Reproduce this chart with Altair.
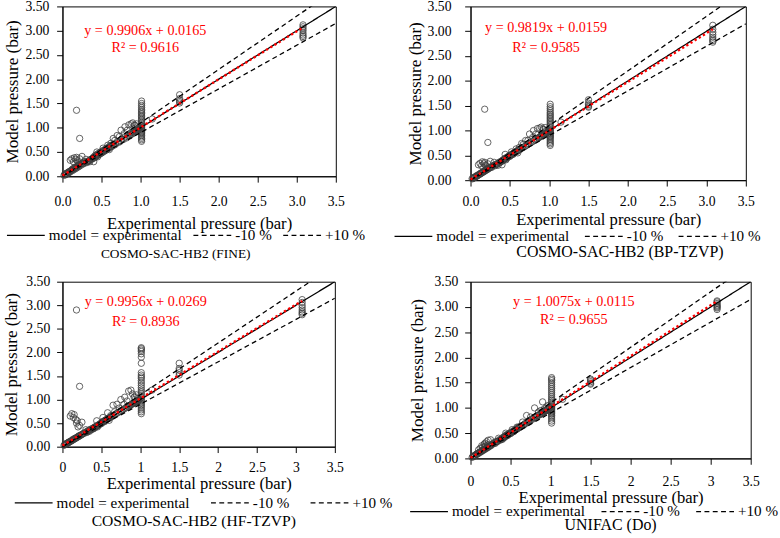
import altair as alt
import pandas as pd

# Experimental vapour pressures (bar); the same systems are predicted by every model
EXP = [
    0.02, 0.03, 0.04, 0.05, 0.06, 0.07, 0.08, 0.09, 0.10, 0.11,
    0.12, 0.13, 0.14, 0.15, 0.16, 0.17, 0.18, 0.19, 0.20, 0.21,
    0.22, 0.23, 0.24, 0.25, 0.26, 0.28, 0.30, 0.32, 0.34, 0.36,
    0.38, 0.40, 0.41, 0.42, 0.43, 0.44, 0.45, 0.46, 0.47, 0.48,
    0.49, 0.50, 0.51, 0.52, 0.53, 0.54, 0.55, 0.56, 0.57, 0.58,
    0.59, 0.60, 0.61, 0.62, 0.63, 0.64, 0.66, 0.68, 0.70, 0.72,
    0.74, 0.76, 0.78, 0.80, 0.82, 0.84, 0.86, 0.87, 0.88, 0.89,
    0.90, 0.91, 0.92, 0.93, 0.94, 0.95, 0.96, 0.97, 0.98, 0.99,
    0.10, 0.12, 0.14, 0.15, 0.17, 0.18, 0.19, 0.20, 0.22, 0.25,
    0.35, 0.40, 0.44, 0.52, 0.58, 0.65, 0.70, 0.75, 0.80, 0.85,
    0.88, 0.90, 0.92, 0.95, 0.97, 0.60, 0.45, 0.30, 0.18, 0.22,
    1.013, 1.013, 1.013, 1.013, 1.013, 1.013, 1.013, 1.013, 1.013, 1.013,
    1.013, 1.013, 1.013, 1.013, 1.013, 1.013, 1.013, 1.013, 1.013, 1.013,
    1.013, 1.013, 1.013, 1.013, 1.013, 1.013, 1.013, 1.013, 1.013, 1.013,
    1.50, 1.50, 1.50, 1.50, 1.50, 1.15, 3.08, 3.08, 3.08, 3.08,
    3.08, 3.08, 3.08, 3.08,
    0.05, 0.08, 0.13, 0.16, 0.21, 0.27, 0.31, 0.33, 0.37, 0.39,
    0.42, 0.46, 0.50, 0.54, 0.62, 0.67, 0.73, 0.79, 0.83, 0.93,
]

# Model pressures (bar)
Y_FINE = [
    0.02, 0.04, 0.03, 0.06, 0.05, 0.08, 0.07, 0.10, 0.09, 0.12,
    0.13, 0.12, 0.16, 0.14, 0.18, 0.16, 0.20, 0.18, 0.22, 0.20,
    0.24, 0.22, 0.26, 0.27, 0.25, 0.30, 0.29, 0.31, 0.32, 0.35,
    0.36, 0.40, 0.38, 0.43, 0.41, 0.45, 0.43, 0.47, 0.45, 0.49,
    0.47, 0.51, 0.49, 0.53, 0.51, 0.55, 0.53, 0.57, 0.55, 0.59,
    0.57, 0.61, 0.60, 0.63, 0.61, 0.65, 0.64, 0.66, 0.71, 0.70,
    0.72, 0.77, 0.76, 0.81, 0.79, 0.85, 0.83, 0.89, 0.86, 0.91,
    0.88, 0.93, 0.90, 0.95, 0.92, 0.97, 0.94, 0.99, 0.96, 1.01,
    0.33, 0.36, 0.30, 0.38, 0.35, 0.39, 0.32, 0.28, 0.36, 0.41,
    0.30, 0.30, 0.50, 0.58, 0.64, 0.78, 0.84, 0.95, 1.02, 1.06,
    1.08, 1.10, 1.05, 1.08, 1.00, 0.55, 0.40, 0.35, 1.36, 0.78,
    0.72, 0.75, 0.78, 0.81, 0.84, 0.87, 0.89, 0.91, 0.93, 0.95,
    0.97, 0.99, 1.01, 1.03, 1.05, 1.08, 1.11, 1.14, 1.17, 1.20,
    1.23, 1.26, 1.29, 1.32, 1.35, 1.38, 1.42, 1.46, 1.50, 1.55,
    1.51, 1.54, 1.57, 1.60, 1.68, 1.18, 2.85, 2.88, 2.91, 2.95,
    3.00, 3.04, 3.08, 3.12,
    0.06, 0.09, 0.15, 0.18, 0.23, 0.26, 0.28, 0.31, 0.35, 0.37,
    0.40, 0.44, 0.48, 0.53, 0.68, 0.74, 0.82, 0.88, 0.95, 1.05,
]

Y_BP = [
    0.03, 0.03, 0.05, 0.05, 0.07, 0.07, 0.09, 0.09, 0.11, 0.11,
    0.13, 0.13, 0.15, 0.15, 0.17, 0.17, 0.19, 0.19, 0.21, 0.21,
    0.23, 0.23, 0.25, 0.26, 0.26, 0.29, 0.30, 0.32, 0.33, 0.36,
    0.37, 0.39, 0.40, 0.42, 0.42, 0.44, 0.44, 0.46, 0.46, 0.48,
    0.48, 0.50, 0.50, 0.52, 0.52, 0.54, 0.54, 0.56, 0.56, 0.58,
    0.58, 0.60, 0.60, 0.62, 0.62, 0.64, 0.65, 0.67, 0.69, 0.71,
    0.73, 0.75, 0.77, 0.79, 0.81, 0.83, 0.85, 0.86, 0.87, 0.88,
    0.89, 0.90, 0.91, 0.92, 0.93, 0.94, 0.95, 0.96, 0.97, 0.98,
    0.31, 0.34, 0.29, 0.37, 0.33, 0.36, 0.30, 0.27, 0.33, 0.38,
    0.30, 0.31, 0.52, 0.57, 0.63, 0.74, 0.80, 0.93, 1.00, 1.04,
    1.05, 1.07, 1.03, 1.06, 0.99, 0.55, 0.41, 0.36, 1.43, 0.76,
    0.70, 0.73, 0.76, 0.79, 0.82, 0.85, 0.87, 0.89, 0.91, 0.93,
    0.95, 0.97, 0.99, 1.01, 1.03, 1.06, 1.09, 1.12, 1.15, 1.18,
    1.21, 1.24, 1.27, 1.30, 1.33, 1.36, 1.40, 1.44, 1.48, 1.53,
    1.47, 1.49, 1.52, 1.55, 1.62, 1.17, 2.78, 2.81, 2.84, 2.88,
    2.93, 2.98, 3.04, 3.12,
    0.06, 0.09, 0.14, 0.17, 0.22, 0.26, 0.29, 0.31, 0.35, 0.37,
    0.40, 0.44, 0.48, 0.52, 0.66, 0.72, 0.80, 0.86, 0.93, 1.02,
]

Y_HF = [
    0.03, 0.04, 0.05, 0.06, 0.07, 0.08, 0.09, 0.10, 0.11, 0.12,
    0.13, 0.14, 0.15, 0.16, 0.17, 0.18, 0.19, 0.20, 0.21, 0.22,
    0.23, 0.24, 0.25, 0.26, 0.27, 0.29, 0.31, 0.33, 0.35, 0.37,
    0.38, 0.40, 0.41, 0.42, 0.43, 0.44, 0.45, 0.46, 0.47, 0.48,
    0.49, 0.51, 0.52, 0.53, 0.54, 0.55, 0.56, 0.57, 0.58, 0.59,
    0.60, 0.61, 0.62, 0.63, 0.64, 0.65, 0.67, 0.69, 0.71, 0.73,
    0.75, 0.77, 0.79, 0.81, 0.83, 0.85, 0.87, 0.88, 0.89, 0.90,
    0.91, 0.92, 0.93, 0.94, 0.95, 0.96, 0.97, 0.98, 0.99, 1.00,
    0.65, 0.70, 0.62, 0.68, 0.58, 0.50, 0.55, 0.42, 0.45, 0.52,
    0.33, 0.38, 0.55, 0.62, 0.72, 0.88, 0.90, 1.00, 1.05, 1.18,
    1.20, 1.12, 1.05, 1.10, 1.02, 0.56, 0.42, 0.36, 2.90, 1.28,
    0.70, 0.74, 0.78, 0.82, 0.86, 0.89, 0.92, 0.95, 0.98, 1.01,
    1.04, 1.08, 1.12, 1.16, 1.20, 1.25, 1.30, 1.35, 1.40, 1.45,
    1.48, 1.52, 1.57, 1.77, 1.90, 1.97, 2.02, 2.05, 2.08, 2.10,
    1.52, 1.57, 1.62, 1.66, 1.77, 1.20, 2.80, 2.83, 2.86, 2.90,
    2.95, 3.00, 3.06, 3.12,
    0.07, 0.10, 0.15, 0.18, 0.23, 0.28, 0.30, 0.32, 0.36, 0.38,
    0.41, 0.45, 0.49, 0.53, 0.66, 0.74, 0.82, 0.90, 0.97, 1.06,
]

Y_UNIFAC = [
    0.02, 0.04, 0.04, 0.06, 0.06, 0.08, 0.08, 0.10, 0.10, 0.12,
    0.12, 0.14, 0.14, 0.16, 0.16, 0.18, 0.18, 0.20, 0.20, 0.22,
    0.22, 0.24, 0.24, 0.26, 0.26, 0.29, 0.30, 0.33, 0.34, 0.37,
    0.38, 0.41, 0.41, 0.43, 0.43, 0.45, 0.45, 0.47, 0.47, 0.49,
    0.49, 0.51, 0.51, 0.53, 0.53, 0.55, 0.55, 0.57, 0.57, 0.59,
    0.59, 0.61, 0.61, 0.63, 0.63, 0.65, 0.66, 0.69, 0.70, 0.73,
    0.74, 0.77, 0.78, 0.81, 0.82, 0.85, 0.86, 0.88, 0.88, 0.90,
    0.90, 0.92, 0.92, 0.94, 0.94, 0.96, 0.96, 0.98, 0.98, 1.00,
    0.17, 0.20, 0.25, 0.22, 0.28, 0.30, 0.25, 0.33, 0.36, 0.37,
    0.40, 0.38, 0.50, 0.57, 0.62, 0.72, 0.85, 0.82, 1.00, 0.92,
    0.95, 1.12, 0.98, 1.02, 1.05, 0.62, 0.47, 0.32, 0.24, 0.27,
    0.70, 0.74, 0.78, 0.82, 0.85, 0.88, 0.90, 0.92, 0.94, 0.96,
    0.98, 1.00, 1.02, 1.04, 1.06, 1.09, 1.12, 1.15, 1.18, 1.22,
    1.26, 1.30, 1.34, 1.38, 1.42, 1.46, 1.50, 1.54, 1.57, 1.60,
    1.47, 1.49, 1.52, 1.55, 1.57, 1.17, 2.95, 2.98, 3.00, 3.02,
    3.04, 3.07, 3.10, 3.12,
    0.05, 0.09, 0.14, 0.17, 0.22, 0.28, 0.30, 0.33, 0.36, 0.38,
    0.41, 0.45, 0.49, 0.53, 0.62, 0.67, 0.75, 0.81, 0.85, 0.95,
]

MODELS = ["COSMO-SAC-HB2 (FINE)", "COSMO-SAC-HB2 (BP-TZVP)",
          "COSMO-SAC-HB2 (HF-TZVP)", "UNIFAC (Do)"]
MODEL_Y = [Y_FINE, Y_BP, Y_HF, Y_UNIFAC]
SLOPES = [0.9906, 0.9819, 0.9956, 1.0075]
INTERCEPTS = [0.0165, 0.0159, 0.0269, 0.0115]
R2 = [0.9616, 0.9585, 0.8936, 0.9655]

GUIDE_NAMES = ["model = experimental", "-10 %", "+10 %"]
GUIDE_FACTORS = [1.0, 0.9, 1.1]
TICKS = [0.0, 0.5, 1.0, 1.5, 2.0, 2.5, 3.0, 3.5]
AXIS_MAX = 3.5

FONT = "Liberation Serif"

# Per-panel layout: plot size, tick-label format, guide placement
LAYOUT = [
    dict(w=280, h=174, xfmt=".1f", ylp=8, xlp=13, xtp=8, ytp=4,
         lx=-58, ly=214, cp=8, tsize=13.7, toff=4, tdx=-24, ann=(1.06, 3.00, 2.64)),
    dict(w=282, h=178, xfmt=".1f", ylp=14, xlp=9, xtp=3, ytp=3,
         lx=-79, ly=215, cp=12, tsize=16.3, toff=0, tdx=12, ann=(0.96, 3.07, 2.67)),
    dict(w=279, h=169, xfmt="~g", ylp=7, xlp=8, xtp=2, ytp=6,
         lx=-50, ly=206, cp=18, tsize=16.0, toff=2, tdx=-5, ann=(1.07, 3.07, 2.65)),
    dict(w=287, h=181, xfmt="~g", ylp=7, xlp=11, xtp=1, ytp=8,
         lx=-63, ly=215, cp=13, tsize=16.3, toff=-3, tdx=0, ann=(1.29, 3.09, 2.73)),
]


def panel(i):
    cfg = LAYOUT[i]
    ys = MODEL_Y[i]
    assert len(ys) == len(EXP)
    pts = pd.DataFrame({"exp": EXP, "model": ys})

    guides = pd.DataFrame({
        "exp": [0.0, AXIS_MAX] * len(GUIDE_NAMES),
        "model": [v for f in GUIDE_FACTORS for v in (0.0, AXIS_MAX * f)],
        "guide": [g for g in GUIDE_NAMES for _ in range(2)],
    })

    xmax = max(EXP)
    trend = pd.DataFrame({
        "exp": [0.0, xmax],
        "model": [INTERCEPTS[i], SLOPES[i] * xmax + INTERCEPTS[i]],
    })

    ax, ay1, ay2 = cfg["ann"]
    notes = pd.DataFrame({
        "exp": [ax, ax],
        "model": [ay1, ay2],
        "label": [f"y = {SLOPES[i]:.4f}x + {INTERCEPTS[i]:.4f}",
                  f"R\u00b2 = {R2[i]:.4f}"],
    })

    xs = alt.Scale(domain=[0, AXIS_MAX], nice=False)
    x_enc = alt.X("exp:Q", scale=xs, title="Experimental pressure (bar)",
                  axis=alt.Axis(values=TICKS, format=cfg["xfmt"], labelFlush=False,
                                labelPadding=cfg["xlp"], titlePadding=cfg["xtp"],
                                titleFontWeight=100, titleFont=FONT,
                                titleFontSize=17))
    y_enc = alt.Y("model:Q", scale=alt.Scale(domain=[0, AXIS_MAX], nice=False),
                  title="Model pressure (bar)",
                  axis=alt.Axis(values=TICKS, format=".2f",
                                labelPadding=cfg["ylp"], titlePadding=cfg["ytp"],
                                titleFontWeight=100, titleFont=FONT,
                                titleFontSize=17.5))

    scatter = alt.Chart(pts).mark_point(
        shape="circle", filled=False, size=42, color="#3c3c3c", strokeWidth=0.8, opacity=1
    ).encode(x=x_enc, y=y_enc)

    lines = alt.Chart(guides).mark_line(color="black", strokeWidth=1.3, clip=True).encode(
        x=x_enc, y=y_enc,
        strokeDash=alt.StrokeDash(
            "guide:N",
            scale=alt.Scale(domain=GUIDE_NAMES, range=[[1, 0], [5, 3.5], [5, 3.5]]),
            sort=GUIDE_NAMES,
            legend=alt.Legend(
                title=None, orient="none", legendX=cfg["lx"], legendY=cfg["ly"],
                direction="horizontal", symbolType="stroke", symbolSize=1500,
                symbolStrokeWidth=1.3, symbolStrokeColor="black",
                labelFont=FONT, labelFontSize=15.5, labelColor="black",
                labelOffset=3, columnPadding=cfg["cp"], labelLimit=0,
            ),
        ),
    )

    fit = alt.Chart(trend).mark_line(
        color="#ff0000", strokeWidth=2.4, strokeDash=[2.4, 2.6]
    ).encode(x=x_enc, y=y_enc)

    text = alt.Chart(notes).mark_text(
        color="#ff0000", font=FONT, fontSize=14.5, align="center", baseline="middle"
    ).encode(x=x_enc, y=y_enc, text="label:N")

    return alt.layer(scatter, lines, fit, text).properties(
        width=cfg["w"], height=cfg["h"],
        title=alt.TitleParams(MODELS[i], orient="bottom", anchor="middle", frame="group",
                              dx=cfg["tdx"], font=FONT, fontSize=cfg["tsize"],
                              fontWeight="normal", color="black", offset=cfg["toff"]),
    )


chart = alt.concat(
    panel(0), panel(1), panel(2), panel(3),
    columns=2, bounds="flush", spacing={"row": 104, "column": 138},
).resolve_scale(strokeDash="independent").resolve_legend(
    strokeDash="independent"
).properties(
    padding={"left": 2, "top": -8, "right": 0, "bottom": 0},
    background="white",
).configure(font=FONT).configure_view(
    stroke="black", strokeWidth=1
).configure_axis(
    grid=False, domainColor="black", domainWidth=1, tickColor="black", tickSize=6,
    tickWidth=1, labelColor="black", titleColor="black", labelFont=FONT,
    titleFont=FONT, labelFontSize=14, titleFontSize=17.5, titleFontWeight=100,
)

chart.save("out.html", embed_options={"renderer": "svg", "actions": False})
